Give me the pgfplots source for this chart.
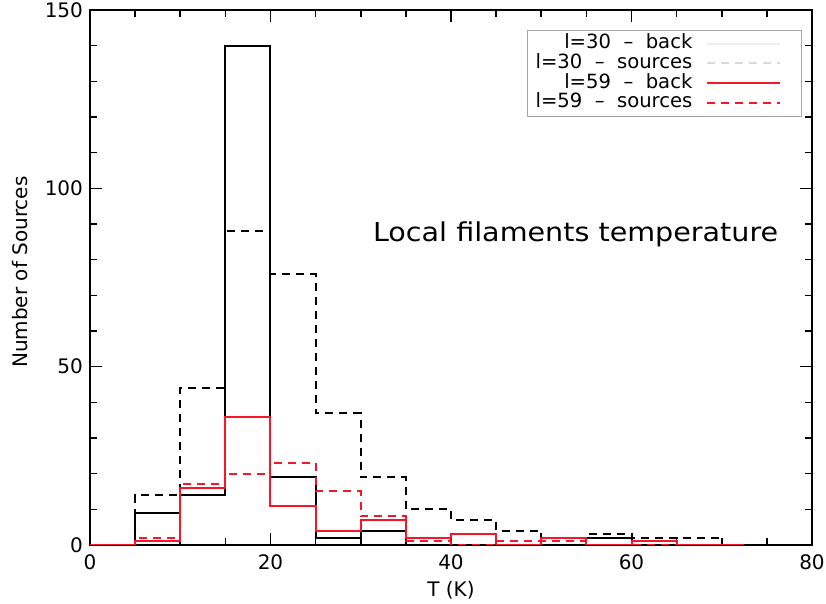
\documentclass[border=0pt]{standalone}
\usepackage{fontspec}
\setmainfont{DejaVu Sans}
\usepackage{pgfplots}
\pgfplotsset{compat=1.18}
\usetikzlibrary{calc}
\definecolor{histred}{RGB}{250,20,40}

\begin{document}
\begin{tikzpicture}
\begin{axis}[
  name=ax, at={(0,0)}, anchor=south west,
  scale only axis, width=361pt, height=267.5pt,
  xmin=0, xmax=80, ymin=0, ymax=150,
  xtick={0,20,...,80}, ytick={0,50,100,150},
  minor x tick num=3, minor y tick num=4,
  tick align=inside,
  major tick length=6pt, minor tick length=3.5pt,
  axis line style={line width=0.9pt},
  every tick/.style={black, line width=0.8pt},
  tick label style={font=\fontsize{10}{11}\selectfont},
  xticklabel style={yshift=-1.5pt},
  /pgf/number format/assume math mode=true,
  xlabel={T (K)}, ylabel={Number of Sources},
  label style={font=\fontsize{10}{12}\selectfont},
  xlabel style={at={(axis description cs:0.5,-0.085)}, anchor=center},
  ylabel style={at={(axis description cs:-0.097,0.51)}, anchor=center},
  legend plot pos=right,
  legend cell align=right,
  legend image code/.code={
    \draw[#1] (0pt,0pt) -- (36.5pt,0pt);
    \path[draw=none] (45pt,0pt);},
  legend style={at={(axis description cs:0.986,0.963)}, anchor=north east,
    draw=gray!70, line width=0.5pt, font=\fontsize{9.8}{10}\selectfont,
    nodes={text height=7.3pt, text depth=2.2pt},
    row sep=-3.65pt, column sep=5pt, inner xsep=2pt, inner ysep=0pt},
  const plot mark left,
  every axis plot/.append style={line width=1pt},
]
% l=30, background temperatures
\addplot[black, forget plot] coordinates {
  (5,0) (5,9) (10,14) (15,140) (20,19) (25,2) (30,4) (35,2)
  (40,3) (45,0) (50,0) (55,2) (60,0) (65,0) (70,0)};
% l=30, source temperatures
\addplot[black, dash pattern=on 4pt off 3pt, forget plot] coordinates {
  (5,0) (5,14) (10,44) (15,88) (20,76) (25,37) (30,19) (35,10)
  (40,7) (45,4) (50,2) (55,3) (60,2) (65,2) (70,0)};
% l=59, background temperatures
\addplot[histred, forget plot] coordinates {
  (0,0) (5,1) (10,16) (15,36) (20,11) (25,4) (30,7) (35,2)
  (40,3) (45,0) (50,2) (55,0) (60,1) (65,0) (72.5,0)};
% l=59, source temperatures
\addplot[histred, dash pattern=on 4pt off 3pt, forget plot] coordinates {
  (0,0) (5,2) (10,17) (15,20) (20,23) (25,15) (30,8) (35,1)
  (40,0) (45,1) (50,1) (55,0) (72.5,0)};

\addlegendimage{gray!12, line width=1pt}
\addlegendentry{l=30 \ – \ back}
\addlegendimage{gray!30, line width=1pt, dash pattern=on 4pt off 3pt}
\addlegendentry{l=30 \ – \ sources}
\addlegendimage{histred, line width=1pt}
\addlegendentry{l=59 \ – \ back}
\addlegendimage{histred, line width=1pt, dash pattern=on 4pt off 3pt}
\addlegendentry{l=59 \ – \ sources}

\node[anchor=base west, xscale=1.1, font=\fontsize{13}{15}\selectfont]
  at (axis cs:30.5,85) {Local filaments temperature};
\end{axis}
\pgfresetboundingbox
\path[use as bounding box] ($(ax.south west)+(-45pt,-29.5pt)$)
  rectangle ($(ax.north east)+(7pt,5pt)$);
\end{tikzpicture}
\end{document}
